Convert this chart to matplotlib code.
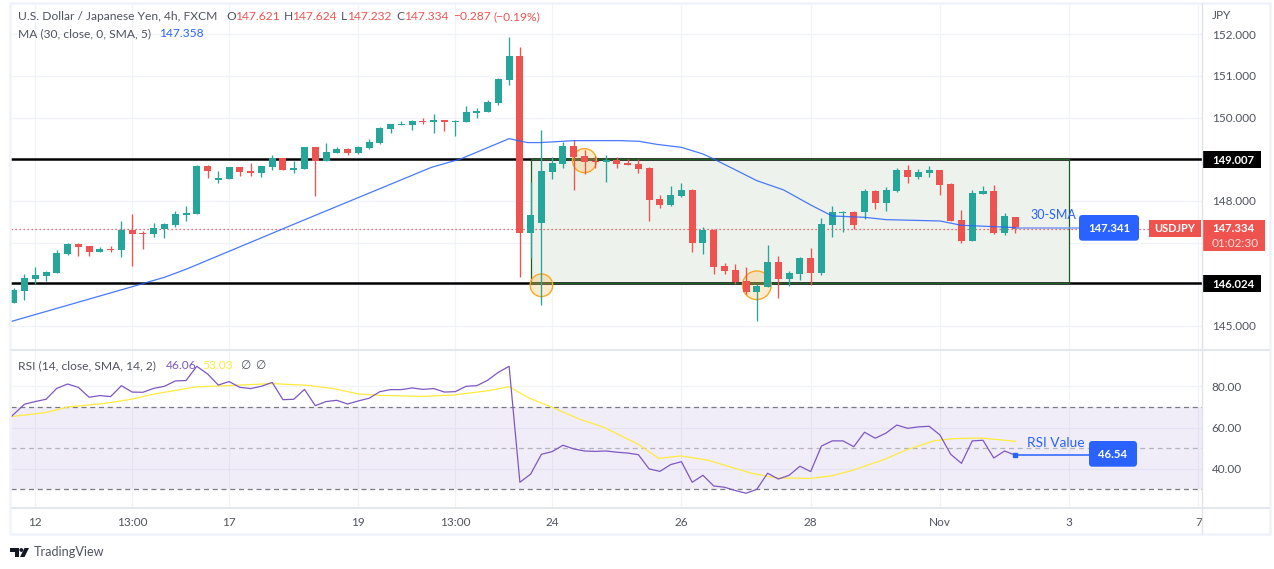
import matplotlib
matplotlib.use("Agg")
import matplotlib.pyplot as plt
from matplotlib.patches import Rectangle, FancyBboxPatch, Polygon, Circle
from matplotlib.lines import Line2D
import numpy as np

plt.rcParams['font.family'] = ['Lato', 'DejaVu Sans']

# ---------- data ----------
opens = [145.55,145.84,146.126,146.198,146.27,146.726,146.966,146.918,146.774,146.846,146.822,147.302,147.238,147.206,147.326,147.422,147.662,147.686,
         148.84,148.504,148.528,148.816,148.72,148.672,148.816,149.032,148.744,148.768,149.296,148.959,149.151,149.247,149.151,149.271,149.391,149.727,
         149.823,149.823,149.927,149.895,149.943,149.903,149.895,150.111,150.135,150.351,150.903,151.479,147.23,147.47,148.694,148.886,149.318,149.078,
         148.958,148.934,148.982,148.91,148.886,148.79,148.046,147.902,148.118,148.262,146.99,147.302,146.438,146.342,146.078,145.814,145.934,146.534,
         146.126,146.246,146.63,146.27,147.422,147.718,147.734,147.734,148.238,147.95,148.238,148.742,148.574,148.67,148.742,148.406,147.542,147.038,
         148.166,148.238,147.23,147.621]
highs = [145.91,146.25,146.414,146.318,146.822,146.99,146.99,146.918,146.894,146.918,147.518,147.686,147.278,147.47,147.47,147.758,147.878,148.864,
         148.864,148.72,148.816,148.816,148.912,148.84,149.104,149.032,148.96,149.296,149.296,149.391,149.295,149.271,149.319,149.487,149.775,149.847,
         149.919,149.943,149.991,150.087,149.943,149.943,150.279,150.231,150.423,150.951,151.935,151.695,148.462,149.703,149.046,149.414,149.462,149.222,
         149.078,149.102,149.046,149.006,149.006,148.814,148.142,148.358,148.43,148.286,147.374,147.326,146.51,146.486,146.414,146.006,146.942,146.678,
         146.318,146.654,146.87,147.59,147.878,147.758,147.758,148.286,148.262,148.334,148.79,148.862,148.766,148.838,148.742,148.43,147.782,148.262,
         148.358,148.382,147.71,147.624]
lows = [145.55,145.62,146.006,146.078,146.27,146.70,146.678,146.678,146.774,146.774,146.654,146.438,146.846,147.134,147.11,147.374,147.518,147.686,
        148.552,148.432,148.528,148.6,148.6,148.576,148.744,148.744,148.672,148.768,148.12,148.959,149.151,149.103,149.127,149.247,149.367,149.631,
        149.823,149.703,149.847,149.631,149.679,149.559,149.895,149.991,150.135,150.303,150.783,146.174,146.622,145.51,148.526,148.79,148.262,148.646,
        148.79,148.454,148.79,148.862,148.67,147.518,147.83,147.878,148.094,146.774,146.726,146.246,146.246,146.006,145.766,145.118,145.934,145.67,
        145.958,146.102,145.982,146.222,147.134,147.254,147.326,147.566,147.806,147.758,148.214,148.43,148.526,148.574,148.142,147.518,146.99,147.038,
        148.166,147.206,147.182,147.232]
closes = [145.86,146.15,146.222,146.294,146.75,146.966,146.894,146.774,146.846,146.822,147.302,147.206,147.214,147.35,147.446,147.686,147.71,148.84,
          148.72,148.552,148.816,148.696,148.672,148.84,149.032,148.744,148.792,149.296,148.96,149.175,149.247,149.151,149.295,149.415,149.751,149.847,
          149.847,149.919,149.903,149.943,149.895,149.927,150.135,150.159,150.375,150.927,151.479,147.23,147.662,148.718,148.91,149.318,149.054,148.934,
          148.934,148.982,148.886,148.862,148.766,148.022,147.902,148.142,148.262,146.99,147.302,146.414,146.318,146.054,145.814,145.958,146.534,146.126,
          146.27,146.63,146.27,147.446,147.734,147.742,147.422,148.238,147.95,148.262,148.742,148.574,148.694,148.742,148.382,147.518,147.038,148.19,
          148.238,147.23,147.638,147.334]

ma_index = [-0.3,11,14,16,26.6,38.8,41.5,46,47.7,48.9,52,56.3,58.1,59.7,62,64,65,69,71.5,74,76,79,81,86,88,91,93]
ma_values = [145.10,145.94,146.166,146.358,147.503,148.807,149.007,149.495,149.40,149.40,149.447,149.447,149.43,149.358,149.286,149.126,149.006,
             148.486,148.262,147.902,147.638,147.606,147.55,147.518,147.414,147.382,147.358]

rsi_values = [61.6,66.4,71.3,72.6,73.7,79.0,81.1,79.5,74.7,75.5,75.0,80.3,77.2,77.1,79.0,80.0,82.6,82.8,89.7,86.0,80.6,82.3,79.5,78.9,80.0,81.9,73.5,73.7,
              78.5,70.6,72.6,73.2,71.4,72.9,74.2,77.4,78.4,78.4,79.2,78.5,78.9,77.2,77.4,80.0,80.3,82.9,86.8,89.7,33.4,37.4,47.0,48.3,51.4,49.6,48.6,48.4,
              48.6,48.0,47.6,46.8,39.9,38.7,42.0,43.4,33.4,36.8,31.6,31.0,29.4,28.1,30.0,37.8,35.0,36.8,41.2,38.6,51.0,53.5,53.5,50.7,57.7,54.8,57.3,61.2,
              59.6,60.3,60.6,56.4,47.0,42.6,53.5,53.8,45.2,48.6,46.54]
rsi_index = list(range(-1, len(rsi_values) - 1))

rsi_ma_index = [-0.25,2.9,5.1,8.3,10.9,13.1,16.9,19.8,24,27.2,29.7,32,33.9,37.9,40.9,44.1,46,47.9,50,52.5,54.8,58,59.9,61.9,64.4,68.5,70.8,74,75.9,77.7,80.9,82.7,85.5,87.3,89.8,93]
rsi_ma_values = [65.3,67.2,70,71.6,73.7,76.3,79.7,80.3,81.3,80.5,78.9,76.3,75.6,75.1,75.8,77.9,79.8,74.2,69.8,64.1,60.1,51.8,45,46.2,44.2,37.8,35.5,35.3,36.5,38.9,44.6,48.8,53.6,54.6,54.9,53.3]

tick_index = [2,11,20,32,41,50,62,74,86,98,110]
tick_labels = ["12","13:00","17","19","13:00","24","26","28","Nov","3","7"]
price_ticks = [145,146,147,148,149,150,151,152]
price_tick_labels = ["145.000","","","148.000","","150.000","151.000","152.000"]
rsi_ticks = [40,60,80]
rsi_tick_labels = ["40.00","60.00","80.00"]

support, resistance = 146.024, 149.007
last_price = 147.334
sma_value = 147.341
rsi_last = 46.54
box_index = [48, 98]
circle_index = [49, 53, 69]
circle_price = [145.974, 148.966, 145.974]
circle_diam_px = [22.6, 24, 28.6]

# ---------- colours ----------
GREEN, RED, BLUE = "#26a69a", "#ef5350", "#2962ff"
GRID, AXIS, TXT = "#f0f3fa", "#e0e3eb", "#50535e"
PURPLE, YELLOW = "#7e57c2", "#ffeb3b"
FS = 8.65
FS_AXIS = 8.5
FS_BOLD = 8.2

W, H = 1274, 569
fig = plt.figure(figsize=(W/100, H/100), dpi=100, facecolor="white")

def axes_px(l, t, r, b, **kw):
    return fig.add_axes([l/W, 1-b/H, (r-l)/W, (b-t)/H], **kw)

x0, dx = 13.7, 10.77
L, R = 10.5, 1202
xlim = ((L-x0)/dx, (R-x0)/dx)

# ---------- price pane ----------
ax = axes_px(L, 3, R, 350)
ax.set_xlim(*xlim)
ax.set_ylim(152-(350-34.3)/41.65, 152+(34.3-3)/41.65)
for s in ax.spines.values():
    s.set_visible(False)
ax.set_xticks(tick_index); ax.tick_params(axis="x", length=0, labelbottom=False)
ax.yaxis.tick_right()
ax.set_yticks(price_ticks); ax.set_yticklabels(price_tick_labels)
ax.tick_params(axis="y", length=0, pad=7, labelsize=FS_AXIS, labelcolor=TXT)
ax.grid(True, color=GRID, lw=0.9, zorder=0); ax.set_axisbelow(True)

ax.add_patch(Rectangle((box_index[0], support), box_index[1]-box_index[0], resistance-support,
                       fc="#eef2ec", ec="none", zorder=1))
ax.axhline(last_price, color="#f23645", lw=0.9, ls=(0, (1, 2.2)), zorder=1.5)
ax.axhline(support, color="black", lw=1.8, zorder=2)
ax.axhline(resistance, color="black", lw=1.8, zorder=2)
ax.add_patch(Rectangle((box_index[0], support), box_index[1]-box_index[0], resistance-support,
                       fc="none", ec="#1b5e20", lw=0.9, zorder=2.5))

idx = np.arange(len(opens))
o, h, l, c = map(np.array, (opens, highs, lows, closes))
cols = [GREEN if cc >= oo else RED for oo, cc in zip(o, c)]
ax.vlines(idx, l, h, colors=cols, lw=0.95, zorder=3)
ax.bar(idx, np.maximum(np.abs(c-o), 0.024), bottom=np.minimum(o, c), width=0.65, color=cols, lw=0, zorder=3.1)
ax.plot(ma_index, ma_values, color=BLUE, lw=0.9, alpha=0.85, zorder=3.5)
ax.plot([idx[-1], 99.2], [sma_value, sma_value], color="#7f9cf5", lw=1.1, zorder=3.4, solid_capstyle="butt")
ax.scatter(circle_index, circle_price, s=[(d*0.72)**2 for d in circle_diam_px],
           facecolors=(1.0, 0.72, 0.30, 0.28), edgecolors="#f9a825", linewidths=1.0, zorder=2.8)

# ---------- RSI pane ----------
ax2 = axes_px(L, 350, R, 507.7)
ax2.set_xlim(*xlim)
ax2.set_ylim(80-(507.7-386.3)/2.06, 80+(386.3-350)/2.06)
for s in ax2.spines.values():
    s.set_visible(False)
ax2.set_xticks(tick_index); ax2.set_xticklabels(tick_labels)
ax2.tick_params(axis="x", length=0, pad=6.5, labelsize=FS_AXIS, labelcolor=TXT)
ax2.yaxis.tick_right()
ax2.set_yticks(rsi_ticks); ax2.set_yticklabels(rsi_tick_labels)
ax2.tick_params(axis="y", length=0, pad=7, labelsize=FS_AXIS, labelcolor=TXT)
ax2.grid(True, color=GRID, lw=0.9, zorder=0); ax2.set_axisbelow(True)
ax2.axhspan(30, 70, color=PURPLE, alpha=0.1, lw=0, zorder=1)
ax2.axhline(70, color="#787b86", lw=0.9, ls=(0, (4, 3)), zorder=2)
ax2.axhline(30, color="#787b86", lw=0.9, ls=(0, (4, 3)), zorder=2)
ax2.axhline(50, color="#b2b5be", lw=0.9, ls=(0, (4, 3)), zorder=2)
ax2.plot(rsi_ma_index, rsi_ma_values, color=YELLOW, lw=0.9, zorder=3)
ax2.plot(rsi_index, rsi_values, color=PURPLE, lw=0.9, zorder=3.2)
ax2.plot([idx[-1], 101.6], [rsi_last, rsi_last], color=BLUE, lw=1.1, zorder=3.4)
ax2.plot([idx[-1]], [rsi_last], marker="s", ms=2.6, color=BLUE, zorder=3.5)

# ---------- overlay in pixels: frame, tags, legends ----------
ov = fig.add_axes([0, 0, 1, 1], zorder=10)
ov.set_xlim(0, W); ov.set_ylim(H, 0); ov.axis("off"); ov.patch.set_alpha(0)

def px_line(x1, y1, x2, y2, color=AXIS, lw=1.0):
    ov.add_line(Line2D([x1, x2], [y1, y2], color=color, lw=lw, solid_capstyle="butt"))

for a in [(9.5, 2.5, 1270.5, 2.5), (9.5, 534, 1270.5, 534), (10, 2, 10, 534.5), (1270, 2, 1270, 534.5)]:
    px_line(*a, color=GRID, lw=1.8)
px_line(10.5, 350, 1270, 350, lw=1.2)
px_line(10.5, 507.7, 1270, 507.7, lw=1.2)
px_line(1202, 3, 1202, 534, lw=1.0)

def txt(x, y, s, color=TXT, size=FS, ha="left", **kw):
    ov.text(x, y, s, color=color, fontsize=size, ha=ha, va="center", **kw)

def tag(x1, y1, x2, y2, color, rounded=False):
    if rounded:
        ov.add_patch(FancyBboxPatch((x1+3, y1+3), x2-x1-6, y2-y1-6, boxstyle="round,pad=3,rounding_size=3.5",
                                    fc=color, ec="none", mutation_aspect=1))
    else:
        ov.add_patch(Rectangle((x1, y1), x2-x1, y2-y1, fc=color, ec="none"))

# top legend
txt(18, 16.5, "U.S. Dollar / Japanese Yen, 4h, FXCM")
for x, pre, val in [(226.7, "O", "147.621"), (284, "H", "147.624"), (341, "L", "147.232"), (396, "C", "147.334")]:
    txt(x, 16.5, pre)
    txt(x+(9 if pre != "L" else 7), 16.5, val, color=RED)
txt(453, 16.5, "−0.287", color=RED)
txt(493, 16.5, "(−0.19%)", color=RED)
txt(18, 33.5, "MA (30, close, 0, SMA, 5)")
txt(160, 33.5, "147.358", color=BLUE)

# RSI legend
txt(18, 365.5, "RSI (14, close, SMA, 14, 2)")
txt(166, 365.5, "46.06", color=PURPLE)
txt(202.5, 365.5, "53.03", color=YELLOW)
txt(240, 365.5, "∅", size=8.5)
txt(255.5, 365.5, "∅", size=8.5)

# price axis
txt(1212, 15.5, "JPY", size=FS_AXIS)
tag(1202, 151, 1261, 168, "black")
txt(1212, 160, "149.007", color="white", weight="bold", size=FS_BOLD)
tag(1202, 275, 1261, 292, "black")
txt(1212, 284, "146.024", color="white", weight="bold", size=FS_BOLD)
tag(1202, 220, 1265, 251, RED)
txt(1212, 228.5, "147.334", color="white", weight="bold", size=FS_BOLD)
txt(1212, 243, "01:02:30", color="#fde0df", size=FS_AXIS)
tag(1149, 220, 1201, 237, RED)
txt(1175, 228.5, "USDJPY", color="white", ha="center", weight="bold", size=7.9)
tag(1079, 215, 1139, 240.7, BLUE, rounded=True)
txt(1109, 228, "147.341", color="white", ha="center", weight="bold", size=FS_BOLD)
txt(1053, 215, "30-SMA", color=BLUE, ha="center", size=9)

# RSI annotation
txt(1056, 442.5, "RSI Value", color=BLUE, ha="center", size=9.8)
tag(1089, 441, 1137, 466.7, BLUE, rounded=True)
txt(1113, 454, "46.54", color="white", ha="center", weight="bold", size=FS_BOLD)

# TradingView footer
ov.add_patch(Polygon([(10, 548), (19, 548), (19, 557), (14.5, 557), (14.5, 552), (10, 552)], fc="#131722", ec="none"))
ov.add_patch(Circle((21.3, 550), 1.9, fc="#131722", ec="none"))
ov.add_patch(Polygon([(24.5, 548), (29, 548), (24.5, 557), (20, 557)], fc="#131722", ec="none"))
txt(33.5, 552, "TradingView", size=9.1, color="#50535e")

fig.savefig("out.png", dpi=100, facecolor="white")
